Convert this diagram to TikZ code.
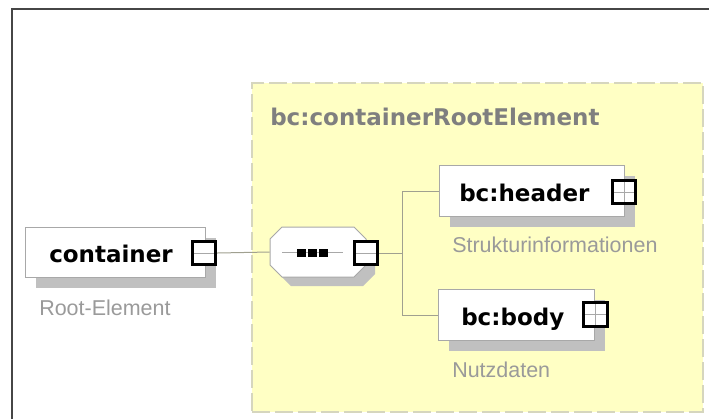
\documentclass[tikz,border=0pt]{standalone}
\usepackage{fontspec}
\setmainfont{DejaVu Sans}
\newfontfamily\labelfont{Liberation Sans}
\usetikzlibrary{calc,shadows}
\newlength\pxu
\setlength\pxu{0.75pt}
\definecolor{grpfill}{HTML}{FFFFC4}
\definecolor{grpdash}{HTML}{D6D6BE}
\definecolor{boxgray}{HTML}{A8A8A8}
\definecolor{shadowgray}{HTML}{C0C0C0}
\definecolor{conngray}{HTML}{A0A090}
\definecolor{titlegray}{HTML}{7F7F7F}
\definecolor{notegray}{HTML}{9A9A9A}
\definecolor{framegray}{HTML}{464646}
\tikzset{
  frame/.style={draw=framegray, line width=2\pxu},
  grpbox/.style={draw=grpdash, fill=grpfill, line width=1.5\pxu,
    dash pattern=on 18\pxu off 5\pxu, inner sep=0,
    minimum width=451\pxu, minimum height=329\pxu},
  elbox/.style={draw=boxgray, fill=white, line width=1\pxu, inner sep=0,
    drop shadow={shadow xshift=10\pxu, shadow yshift=-10\pxu, fill=shadowgray, opacity=1}},
  sqbox/.style={draw=black, fill=white, line width=2.6\pxu, inner sep=0, minimum size=23.5\pxu},
  sqline/.style={draw=boxgray, line width=0.8\pxu},
  conn/.style={draw=conngray, line width=1\pxu},
  elname/.style={font=\bfseries\fontsize{17.25}{20}\selectfont, text=black, anchor=base west, inner sep=0},
  grptitle/.style={font=\bfseries\fontsize{17.25}{20}\selectfont, text=titlegray, anchor=base west, inner sep=0},
  note/.style={font=\labelfont\fontsize{16.1}{19}\selectfont, text=notegray, anchor=base west, inner sep=0},
  seqnode/.style={inner sep=0, minimum width=96\pxu, minimum height=50\pxu},
  octo/.style={draw=boxgray, fill=white, line width=1\pxu},
  octoshadow/.style={fill=shadowgray},
}
\begin{document}
\begin{tikzpicture}[x=0.75pt,y=-0.75pt]
\useasboundingbox[fill=white] (0,0) rectangle (709,419);
% outer frame (cropped)
\draw[frame] (12,419) -- (12,9) -- (709,9);
% group
\node[grpbox] (grp) at (477.5,247.5) {};
\node[grptitle] (grpt) at (270,125) {bc:containerRootElement};
% container element
\node[elbox, minimum width=180\pxu, minimum height=50\pxu] (cbox) at (115.5,252.5) {};
\node[elname] (ctext) at (49,262) {container};
\node[sqbox] (csq) at (204,253) {};
\draw[sqline] ([xshift=3\pxu]csq.west) -- ([xshift=-3\pxu]csq.east);
\node[note] (cnote) at (39,315) {Root-Element};
% sequence compositor
\node[seqnode] (seq) at (318,252) {};
\fill[octoshadow, shift={(9,9)}] (270,239) -- (282,227) -- (354,227) -- (366,239) -- (366,265) -- (354,277) -- (282,277) -- (270,265) -- cycle;
\draw[octo] (270,239) -- (282,227) -- (354,227) -- (366,239) -- (366,265) -- (354,277) -- (282,277) -- (270,265) -- cycle;
\draw[sqline] (282,252.5) -- (343,252.5);
\fill[black] (297,248.5) rectangle (306,256.5);
\fill[black] (308,248.5) rectangle (317,256.5);
\fill[black] (319,248.5) rectangle (328,256.5);
\node[sqbox] (ssq) at (366,253) {};
\draw[sqline] ([xshift=3\pxu]ssq.west) -- ([xshift=-3\pxu]ssq.east);
\coordinate (fork) at (402,253);
% header element
\node[elbox, minimum width=185\pxu, minimum height=51\pxu] (hbox) at (532,191) {};
\node[elname] (htext) at (459,201) {bc:header};
\node[sqbox] (hsq) at (624,192) {};
\draw[sqline] ([xshift=3\pxu]hsq.west) -- ([xshift=-3\pxu]hsq.east);
\draw[sqline] ([yshift=-3\pxu]hsq.north) -- ([yshift=3\pxu]hsq.south);
\node[note] (hnote) at (452,252) {Strukturinformationen};
% body element
\node[elbox, minimum width=156\pxu, minimum height=51\pxu] (bbox) at (516.5,315) {};
\node[elname] (btext) at (461,325) {bc:body};
\node[sqbox] (bsq) at (595.5,314.5) {};
\draw[sqline] ([xshift=3\pxu]bsq.west) -- ([xshift=-3\pxu]bsq.east);
\draw[sqline] ([yshift=-3\pxu]bsq.north) -- ([yshift=3\pxu]bsq.south);
\node[note] (bnote) at (452,377) {Nutzdaten};
% connectors
\draw[conn] (csq.east) -- (seq.west);
\draw[conn] (ssq.east) -- (fork) |- (hbox.west);
\draw[conn] (fork) |- (bbox.west);
\end{tikzpicture}
\end{document}
